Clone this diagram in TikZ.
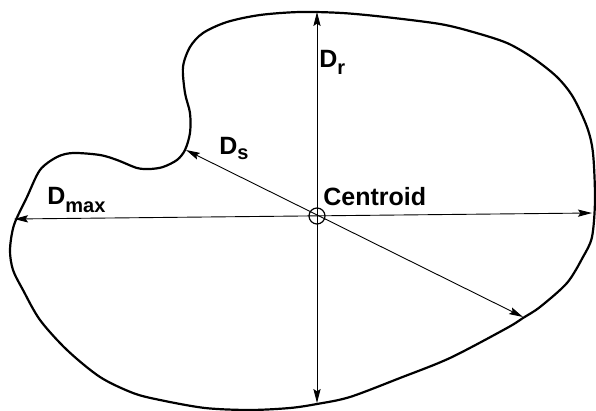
\documentclass[tikz,border=0pt]{standalone}
\usepackage{fontspec}
\setmainfont{Liberation Sans}
\usetikzlibrary{arrows.meta}
\newcommand{\lowsub}[2]{\raisebox{-#1}{\fontsize{10}{12}\selectfont #2}}

\begin{document}
\begin{tikzpicture}[
    x=0.5pt, y=-0.5pt,
    outline/.style={line width=1.1pt, line join=round},
    dimline/.style={{Stealth[length=7pt,width=3.6pt,inset=1.2pt]}-{Stealth[length=7pt,width=3.6pt,inset=1.2pt]}, line width=0.45pt},
    lbl/.style={inner sep=0pt, font=\fontsize{12.5}{14}\selectfont\bfseries}
]
\useasboundingbox (0,0) rectangle (596,411);

% particle outline
\draw[outline] plot[smooth cycle, tension=0.5] coordinates {
    (203,33) (227,22) (260,15) (300,12) (342,13) (385,17) (440,24)
    (473,32) (507,43) (533,58) (557,77) (573,97) (587,127) (593,153)
    (595,200) (592,237) (583,257) (567,283) (540,307) (523,318) (507,328)
    (450,358) (400,378) (350,397) (317,404) (290,408) (250,410) (205,408)
    (160,400) (133,393) (100,377) (67,350) (40,320) (23,290) (13,270)
    (10,250) (14,225) (27,197) (40,170) (57,157) (73,153) (100,155)
    (117,160) (137,168) (150,169) (163,167) (177,160) (185,150) (190,133)
    (190,113) (185,93) (183,67) (190,47)};

% centroid and arrow ends
\node[circle, draw, line width=0.6pt, minimum size=8pt, inner sep=0pt] (cen) at (317,216) {};
\coordinate (rtop) at (317,12);
\coordinate (rbot) at (317,403);
\coordinate (mleft) at (14,219);
\coordinate (mright) at (592,213);
\coordinate (sneck) at (186,150);
\coordinate (sfar) at (523,317);

\draw[dimline] (rtop) -- (rbot);
\draw[dimline] (mleft) -- (mright);
\draw[dimline] (sneck) -- (sfar);

% labels
\node[lbl, anchor=base west] (dr) at (319,68) {D\lowsub{3.5pt}{r}};
\node[lbl, anchor=base west] (ds) at (219,155) {D\lowsub{2.5pt}{s}};
\node[lbl, anchor=base west] (dmax) at (47,205) {D\lowsub{4pt}{max}};
\node[lbl, anchor=base west] (ctext) at (323,206) {Centroid};
\end{tikzpicture}
\end{document}
